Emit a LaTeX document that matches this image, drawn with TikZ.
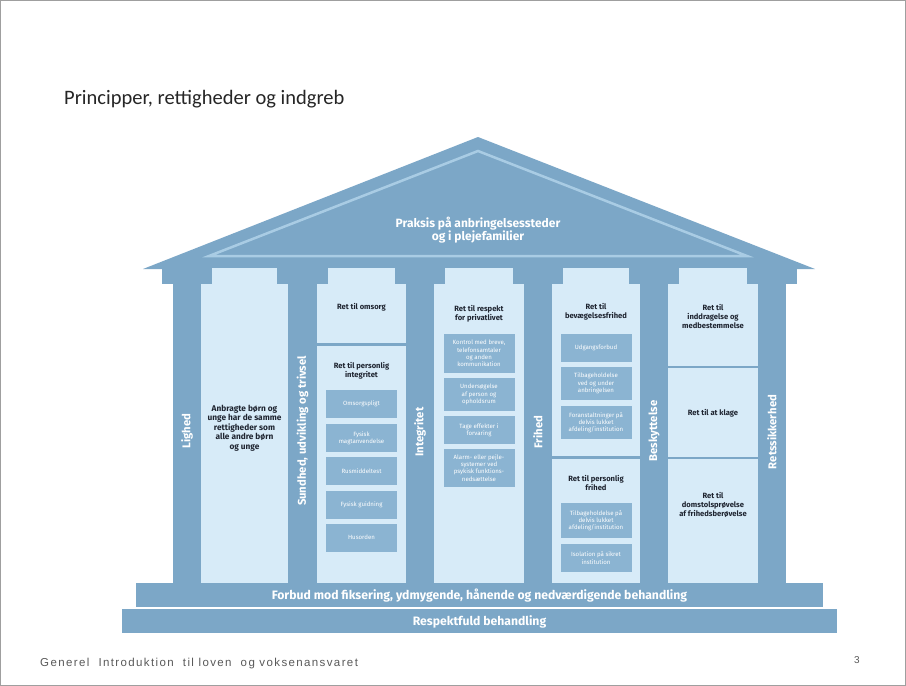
\documentclass[tikz,border=0pt]{standalone}
\usepackage{fontspec}
\setmainfont{Fira Sans}
\newfontfamily\titlefont{Carlito}
\newfontfamily\footfont[LetterSpace=12]{Liberation Sans}
\definecolor{dkb}{HTML}{7CA7C7}
\definecolor{ltb}{HTML}{D7EBF8}
\definecolor{mdb}{HTML}{8BB4D2}
\definecolor{rfl}{HTML}{A9CCE4}
\definecolor{txd}{HTML}{1E2430}
\definecolor{ttl}{HTML}{262626}
\definecolor{ftg}{HTML}{595959}
\tikzset{
  sub/.style={fill=mdb, text=white, font=\fontsize{6.1}{7.3}\selectfont, align=center, inner sep=0pt, minimum width=71pt},
  lbl/.style={text=txd, font=\bfseries\fontsize{7.6}{9}\selectfont, align=center, inner sep=0pt},
  plabel/.style={text=white, font=\bfseries\fontsize{11.3}{12}\selectfont, rotate=90, inner sep=0pt},
  band/.style={text=white, font=\bfseries\fontsize{12.2}{13}\selectfont, inner sep=0pt},
  divl/.style={dkb, line width=2.5pt}
}
\begin{document}
\begin{tikzpicture}[x=1pt,y=-1pt]
\useasboundingbox (0,0) rectangle (906,686);
\fill[white] (0,0) rectangle (906,686);
\draw[gray!75, line width=0.8pt] (0.4,0.4) rectangle (905.6,685.6);

% title
\node[anchor=base west, inner sep=0pt, text=ttl, font=\titlefont\fontsize{20.5}{24}\selectfont] (title) at (64,104) {Principper, rettigheder og indgreb};

% roof
\fill[dkb] (143,269) -- (478,137) -- (815,269) -- cycle;
\draw[rfl, line width=2.5pt, line join=miter] (209,256) -- (478,151) -- (747,256) -- cycle;
\node[band, align=center, font=\bfseries\fontsize{12}{13}\selectfont] (roof) at (478,230) {Praksis på anbringelsessteder\\og i plejefamilier};

% light boxes
\foreach \a/\b in {201/288,317/406,434/524,552/640,668/758}
  \fill[ltb] (\a,268) rectangle (\b,583);
% pillars with capitals
\foreach \a/\b in {173/201,288/317,406/434,524/552,640/668,758/786}{
  \fill[dkb] (\a,268) rectangle (\b,583);
  \fill[dkb] (\a-11,268) rectangle (\b+11,284);
}

% bands
\fill[dkb] (136,583) rectangle (823,607);
\fill[dkb] (122,609) rectangle (837,633);
\node[band] (forbud) at (479.5,595.5) {Forbud mod fiksering, ydmygende, hånende og nedværdigende behandling};
\node[band] (respekt) at (479.5,621.5) {Respektfuld behandling};

% pillar labels
\node[plabel] (lighed) at (187,431) {Lighed};
\node[plabel] (sundhed) at (302.5,431) {Sundhed, udvikling og trivsel};
\node[plabel] (integritet) at (420,432) {Integritet};
\node[plabel] (frihed) at (538,432) {Frihed};
\node[plabel] (beskyttelse) at (654,431) {Beskyttelse};
\node[plabel] (retssik) at (772,432) {Retssikkerhed};

% column 1
\node[lbl, font=\bfseries\fontsize{8.3}{9.4}\selectfont] (b1) at (244.5,428) {Anbragte børn og\\unge har de samme\\rettigheder som\\alle andre børn\\og unge};

% column 2
\node[lbl] (omsorg) at (361.5,307) {Ret til omsorg};
\draw[divl] (317,344.5) -- (406,344.5);
\node[lbl] (persint) at (361.5,371) {Ret til personlig\\integritet};
\node[sub, minimum height=28pt] (s21) at (361.5,404) {Omsorgspligt};
\node[sub, minimum height=28pt] (s22) at (361.5,438) {Fysisk\\magtanvendelse};
\node[sub, minimum height=28pt] (s23) at (361.5,471) {Rusmiddeltest};
\node[sub, minimum height=28pt] (s24) at (361.5,504.5) {Fysisk guidning};
\node[sub, minimum height=28pt] (s25) at (361.5,537.5) {Husorden};

% column 3
\node[lbl] (privat) at (479,314) {Ret til respekt\\for privatlivet};
\node[sub, minimum width=71pt, minimum height=39pt] (s31) at (479,353.5) {Kontrol med breve,\\telefonsamtaler\\og anden\\kommunikation};
\node[sub, minimum width=71pt, minimum height=33pt] (s32) at (479,394.5) {Undersøgelse\\af person og\\opholdsrum};
\node[sub, minimum width=71pt, minimum height=28pt] (s33) at (479,430) {Tage effekter i\\forvaring};
\node[sub, minimum width=71pt, minimum height=38pt] (s34) at (479,468) {Alarm- eller pejle-\\systemer ved\\psykisk funktions-\\nedsættelse};

% column 4
\node[lbl] (bevaeg) at (596,311.5) {Ret til\\bevægelsesfrihed};
\node[sub, minimum height=28pt] (s41) at (596,348) {Udgangsforbud};
\node[sub, minimum height=33pt] (s42) at (596,383.5) {Tilbageholdelse\\ved og under\\anbringelsen};
\node[sub, minimum height=33pt] (s43) at (596,422.5) {Foranstaltninger på\\delvis lukket\\afdeling/institution};
\draw[divl] (552,457.5) -- (640,457.5);
\node[lbl] (persfri) at (596,483) {Ret til personlig\\frihed};
\node[sub, minimum height=35pt] (s44) at (596,520.5) {Tilbageholdelse på\\delvis lukket\\afdeling/institution};
\node[sub, minimum height=28pt] (s45) at (596,558) {Isolation på sikret\\institution};

% column 5
\node[lbl] (inddrag) at (713,316) {Ret til\\inddragelse og\\medbestemmelse};
\draw[divl] (668,367) -- (758,367);
\node[lbl] (klage) at (713,413) {Ret til at klage};
\draw[divl] (668,458) -- (758,458);
\node[lbl] (domstol) at (713,505) {Ret til\\domstolsprøvelse\\af frihedsberøvelse};

% footer
\node[anchor=base west, inner sep=0pt, text=ftg, font=\footfont\fontsize{11.5}{13}\selectfont] (footer) at (40,666) {Generel\ \ Introduktion\ \ til loven\ \ og voksenansvaret};
\node[anchor=base, inner sep=0pt, text=ftg, font=\footfont\fontsize{10}{12}\selectfont] (pnum) at (857,663) {3};
\end{tikzpicture}
\end{document}
